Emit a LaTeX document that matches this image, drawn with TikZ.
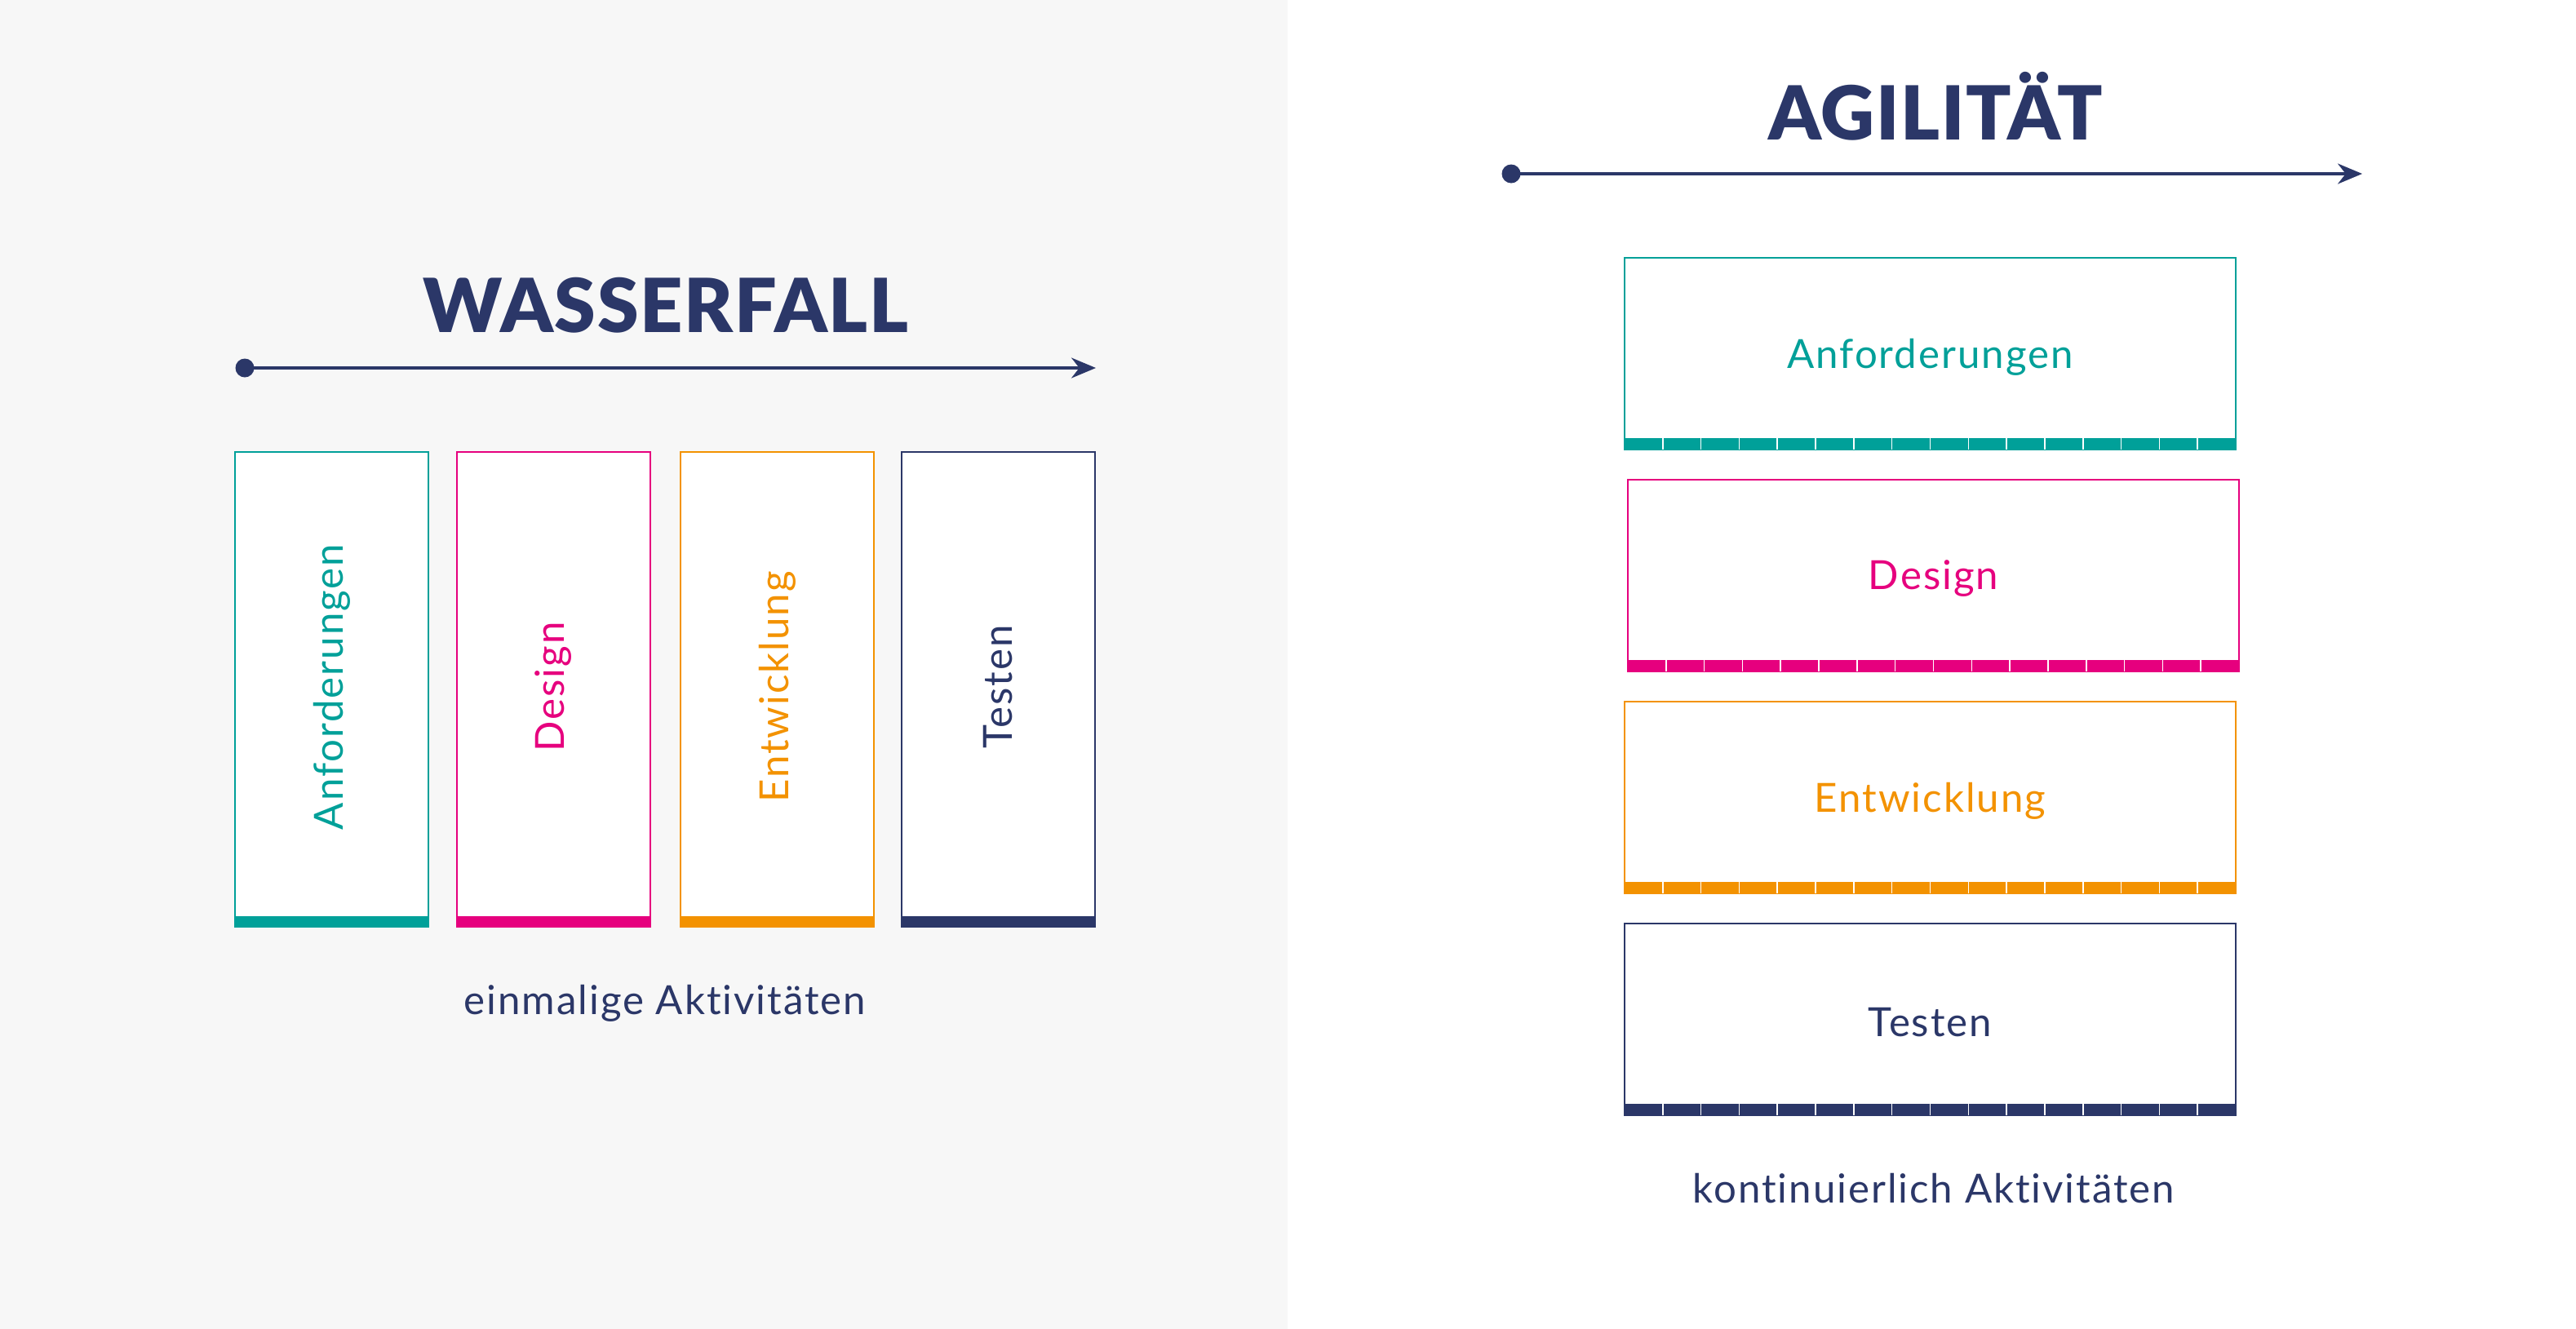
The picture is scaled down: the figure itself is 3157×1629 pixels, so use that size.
\documentclass[tikz,border=0pt]{standalone}
\usepackage{fontspec}
\setmainfont{Lato}
\newfontfamily\lab[LetterSpace=4, Ligatures=NoCommon]{Lato}
\newfontfamily\ttl[LetterSpace=2]{Lato Black}
\usetikzlibrary{arrows.meta,calc}
\definecolor{navy}{HTML}{2B3768}
\definecolor{tealc}{HTML}{00A099}
\definecolor{magc}{HTML}{E6007E}
\definecolor{orngc}{HTML}{F39200}
\definecolor{bgg}{HTML}{F7F7F7}
\begin{document}
\begin{tikzpicture}[x=0.1mm,y=-0.1mm,
  vbox/.style={draw, fill=white, line width=0.6pt, minimum width=23.7mm, minimum height=58.2mm, anchor=north west, inner sep=0pt, outer sep=0pt},
  hbox/.style={draw, fill=white, line width=0.6pt, minimum width=74.9mm, minimum height=23.5mm, anchor=north west, inner sep=0pt, outer sep=0pt},
  ttlstyle/.style={font=\ttl\fontsize{26}{30}\selectfont, text=navy, anchor=base, inner sep=0pt},
  lblstyle/.style={font=\lab\fontsize{14}{16}\selectfont, inner sep=0pt},
  capstyle/.style={font=\lab\fontsize{14}{16}\selectfont, text=navy, anchor=base, inner sep=0pt},
  dotstyle/.style={circle, fill=navy, inner sep=0pt, minimum size=2.3mm},
  timeline/.style={draw=navy, line width=0.9pt, -{Stealth[length=3mm,width=2.5mm]}},
]
\useasboundingbox (0,0) rectangle (3157,1629);
\fill[bgg] (0,0) rectangle (1578,1629);

% ---------- Wasserfall ----------
\node[ttlstyle] (wt) at (816,407) {WASSERFALL};
\node[dotstyle] (wd) at (300,451) {};
\coordinate (we) at (1343,451);
\draw[timeline] (wd.center) -- (we);

\foreach \n/\x/\c/\t in {w1/288/tealc/Anforderungen, w2/560/magc/Design, w3/834/orngc/Entwicklung, w4/1105/navy/Testen}{
  \node[vbox, draw=\c] (\n) at (\x,554) {};
  \fill[\c] (\n.south west) rectangle ([yshift=1.3mm]\n.south east);
  \node[lblstyle, text=\c, rotate=90] (\n t) at ([yshift=0.3mm]\n.center) {\t};
}
\node[capstyle] (wc) at (815,1243) {einmalige Aktivitäten};

% ---------- Agilitaet ----------
\node[ttlstyle] (at) at (2372,171) {AGILITÄT};
\node[dotstyle] (ad) at (1852,213) {};
\coordinate (ae) at (2895,213);
\draw[timeline] (ad.center) -- (ae);

\foreach \n/\x/\y/\c/\t in {a1/1991/316/tealc/Anforderungen, a2/1995/588/magc/Design, a3/1991/860/orngc/Entwicklung, a4/1991/1132/navy/Testen}{
  \node[hbox, draw=\c] (\n) at (\x,\y) {};
  \fill[\c] (\n.south west) rectangle ([yshift=1.4mm]\n.south east);
  \foreach \i in {1,...,15}{
    \draw[white, line width=0.45pt] ($(\n.south west)!\i/16!(\n.south east)$) -- ++(0,-14);
  }
  \node[lblstyle, text=\c] (\n t) at ([yshift=-0.4mm]\n.center) {\t};
}
\node[capstyle] (ac) at (2370,1474) {kontinuierlich Aktivitäten};
\end{tikzpicture}
\end{document}
